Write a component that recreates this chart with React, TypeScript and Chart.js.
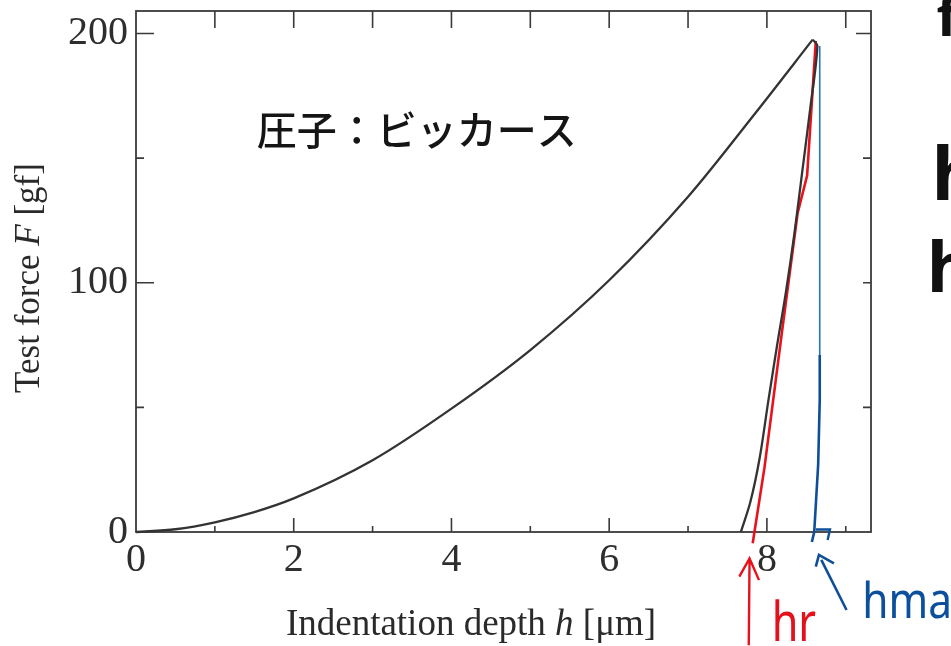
import React, { useEffect, useRef } from 'react';
import { Chart, registerables } from 'chart.js';

Chart.register(...registerables);

// ---- axis ranges & ticks ----
const X_MIN = 0;
const X_MAX = 9.32;
const Y_MIN = 0;
const Y_MAX = 209;
const xLabelValues = [0, 2, 4, 6, 8];
const yLabelValues = [0, 100, 200];

// ---- curves (depth h [μm], force F [gf]) ----
const loadDepth = [0, 0.5, 1, 1.5, 2, 3, 4, 5, 6, 7, 7.84, 8.58];
const loadForce = [0, 1.1, 3.9, 8, 13.5, 28.8, 49.5, 73, 101, 134.5, 167.5, 197.5];

const unloadDepth = [8.58, 8.64, 8.55, 8.45, 8.35, 8.24, 8.13, 8.02, 7.91, 7.79, 7.67];
const unloadForce = [197.5, 195, 170, 145, 120, 96, 75, 53, 30, 12, 0];

// red hand-drawn tangent (to h_r)
const tangentDepth = [8.62, 8.51, 8.39, 8.19, 7.97, 7.82];
const tangentForce = [197, 143, 128, 80, 26, -4.5];

// blue line at h_max (thin printed part + thick hand-drawn part)
const hmaxThinDepth = [8.67, 8.67];
const hmaxThinForce = [195, 71];
const hmaxDepth = [8.67, 8.67, 8.65, 8.6, 8.57];
const hmaxForce = [71, 53, 27, 0, -4];
const hmaxHookDepth = [8.62, 8.8, 8.77];
const hmaxHookForce = [1, 1, -3.2];

// arrows
const redArrowDepth = [7.77, 7.78, NaN, 7.65, 7.78, 7.9];
const redArrowForce = [-45.4, -10.6, NaN, -17.9, -10.6, -19.3];
const blueArrowDepth = [9.01, 8.69, NaN, 8.62, 8.66, 8.85];
const blueArrowForce = [-31.3, -11.2, NaN, -13.9, -9.2, -12.6];

// handwritten notes
const noteTexts = ['圧子：ビッカース', 'hr', 'hmax', 'f', 'h', 'h.'];
const noteDepth = [1.53, 8.06, 9.21, 10.15, 10.09, 10.03];
const noteForce = [161.5, -43.8, -34.5, 199, 133, 96.4];
const noteColors = ['#151515', '#e3111c', '#0c4f9c', '#111111', '#111111', '#111111'];
const noteScaleX = [1, 0.8, 0.85, 1, 1, 1];
const noteFonts = [
  '500 40px "Noto Sans CJK JP"',
  '400 54px "Noto Sans"',
  '400 50px "Noto Sans"',
  'bold 56px "Noto Sans"',
  'bold 74px "Noto Sans"',
  'bold 70px "Noto Sans"',
];

const pts = (xs: number[], ys: number[]) =>
  xs.map((x, i) => (Number.isNaN(x) ? { x: NaN, y: NaN } : { x, y: ys[i] }));

const SERIF = '"Liberation Serif", "Times New Roman", serif';
const AXIS_COLOR = '#3a3a3a';

const framePlugin = {
  id: 'frameTicks',
  beforeDatasetsDraw(chart: any) {
    const { ctx, chartArea, scales } = chart;
    const { left, right, top, bottom } = chartArea;
    const x = scales.x;
    const y = scales.y;
    ctx.save();
    ctx.strokeStyle = AXIS_COLOR;
    ctx.lineWidth = 1.8;
    ctx.strokeRect(left, top, right - left, bottom - top);
    ctx.lineWidth = 1.6;
    ctx.beginPath();
    x.ticks.forEach((t: any) => {
      const px = x.getPixelForValue(t.value);
      if (t.value <= X_MIN) return;
      const lenB = t.value % 2 === 0 ? 14 : 6;
      ctx.moveTo(px, bottom);
      ctx.lineTo(px, bottom - lenB);
      ctx.moveTo(px, top);
      ctx.lineTo(px, top + 17);
    });
    y.ticks.forEach((t: any) => {
      const py = y.getPixelForValue(t.value);
      if (t.value <= Y_MIN) return;
      const lenL = t.value % 100 === 0 ? 18 : 8;
      const lenR = t.value === 200 ? 15 : 8;
      ctx.moveTo(left, py);
      ctx.lineTo(left + lenL, py);
      ctx.moveTo(right, py);
      ctx.lineTo(right - lenR, py);
    });
    ctx.stroke();
    ctx.restore();
  },
  afterDraw(chart: any) {
    const { ctx, scales } = chart;
    const x = scales.x;
    const y = scales.y;
    const drawParts = (parts: [string, boolean][], fs: number) => {
      let total = 0;
      const widths = parts.map(([s, it]) => {
        ctx.font = `${it ? 'italic ' : ''}${fs}px ${SERIF}`;
        const w = ctx.measureText(s).width;
        total += w;
        return w;
      });
      let cx = -total / 2;
      parts.forEach(([s, it], i) => {
        ctx.font = `${it ? 'italic ' : ''}${fs}px ${SERIF}`;
        ctx.fillText(s, cx, 0);
        cx += widths[i];
      });
    };
    ctx.save();
    ctx.fillStyle = '#2a2a2a';
    ctx.textAlign = 'left';
    ctx.textBaseline = 'alphabetic';
    // x title
    ctx.save();
    ctx.translate(471, 635);
    drawParts([['Indentation depth ', false], ['h', true], [' [μm]', false]], 37);
    ctx.restore();
    // y title
    ctx.save();
    ctx.translate(39, 278);
    ctx.rotate(-Math.PI / 2);
    drawParts([['Test force ', false], ['F', true], [' [gf]', false]], 35);
    ctx.restore();

    // handwritten notes
    noteTexts.forEach((s, i) => {
      ctx.save();
      ctx.font = noteFonts[i];
      ctx.fillStyle = noteColors[i];
      ctx.textAlign = 'left';
      ctx.textBaseline = i === 0 ? 'middle' : 'alphabetic';
      ctx.translate(x.getPixelForValue(noteDepth[i]), y.getPixelForValue(noteForce[i]));
      ctx.scale(noteScaleX[i], 1);
      ctx.fillText(s, 0, 0);
      ctx.restore();
    });
    ctx.restore();
  },
};

export default function App() {
  const ref = useRef<HTMLCanvasElement | null>(null);
  useEffect(() => {
    if (!ref.current) return;
    const line = (data: any[], color: string, width: number, extra: any = {}) => ({
      data,
      borderColor: color,
      backgroundColor: color,
      borderWidth: width,
      showLine: true,
      pointRadius: 0,
      fill: false,
      spanGaps: false,
      clip: false as any,
      ...extra,
    });
    const chart = new Chart(ref.current, {
      type: 'scatter',
      data: {
        datasets: [
          line(pts(loadDepth, loadForce), '#333333', 2.3, { cubicInterpolationMode: 'monotone' }),
          line(pts(unloadDepth, unloadForce), '#333333', 2.3, { tension: 0.3 }),
          line(pts(tangentDepth, tangentForce), '#e8121d', 2.6),
          line(pts(hmaxThinDepth, hmaxThinForce), '#2a74bb', 1.6),
          line(pts(hmaxDepth, hmaxForce), '#0e4f9a', 2.6),
          line(pts(hmaxHookDepth, hmaxHookForce), '#0e4f9a', 2.4),
          line(pts(redArrowDepth, redArrowForce), '#e8121d', 2.4),
          line(pts(blueArrowDepth, blueArrowForce), '#0e4f9a', 2.6),
        ],
      },
      options: {
        responsive: false,
        animation: false,
        layout: { padding: { top: 11, right: 80, left: 0, bottom: 0 } },
        plugins: { legend: { display: false }, tooltip: { enabled: false }, title: { display: false } },
        scales: {
          x: {
            type: 'linear',
            min: X_MIN,
            max: X_MAX,
            afterFit: (s: any) => {
              s.height = 114;
              s.paddingLeft = 0;
              s.paddingRight = 0;
            },
            grid: { display: false, drawTicks: false },
            border: { display: false },
            ticks: {
              stepSize: 1,
              includeBounds: false,
              autoSkip: false,
              maxRotation: 0,
              padding: 4,
              color: '#2e2e2e',
              font: { family: SERIF, size: 40 },
              callback: (v: any) => (xLabelValues.includes(Number(v)) ? String(v) : ''),
            },
          },
          y: {
            type: 'linear',
            min: Y_MIN,
            max: Y_MAX,
            afterFit: (s: any) => {
              s.width = 136;
              s.paddingTop = 0;
              s.paddingBottom = 0;
            },
            grid: { display: false, drawTicks: false },
            border: { display: false },
            ticks: {
              stepSize: 50,
              includeBounds: false,
              autoSkip: false,
              padding: 8,
              color: '#2e2e2e',
              font: { family: SERIF, size: 40 },
              callback: (v: any) => (yLabelValues.includes(Number(v)) ? String(v) : ''),
            },
          },
        },
      },
      plugins: [framePlugin],
    } as any);
    return () => chart.destroy();
  }, []);
  return (
    <div style={{ position: 'absolute', left: 0, top: 0, width: 951, height: 646, background: '#ffffff', overflow: 'hidden' }}>
      <canvas ref={ref} width={951} height={646} style={{ display: 'block' }} />
    </div>
  );
}
